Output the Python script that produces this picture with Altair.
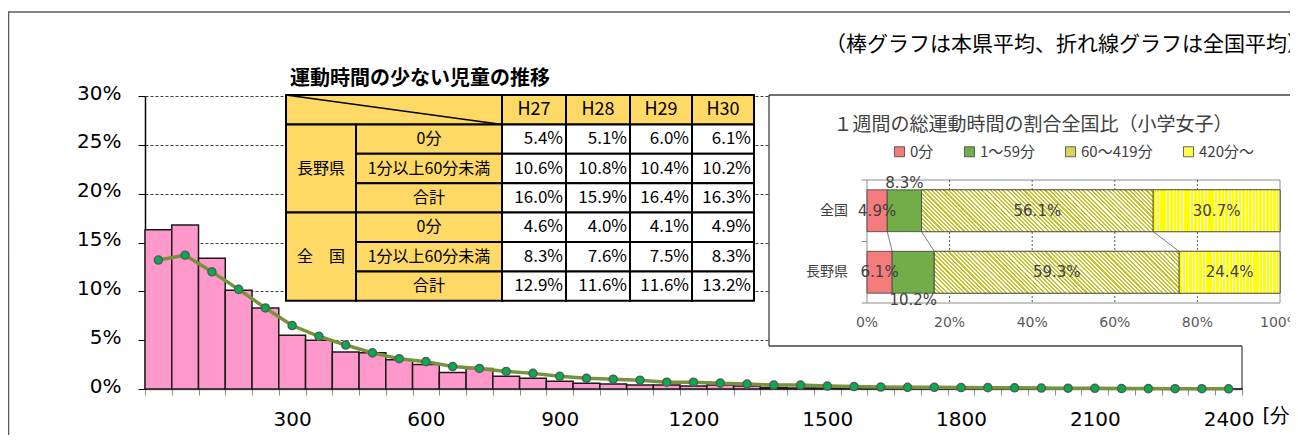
import altair as alt
import pandas as pd

# ---------------- data ----------------
minutes = [0, 60, 120, 180, 240, 300, 360, 420, 480, 540,
           600, 660, 720, 780, 840, 900, 960, 1020, 1080, 1140,
           1200, 1260, 1320, 1380, 1440, 1500, 1560, 1620, 1680, 1740,
           1800, 1860, 1920, 1980, 2040, 2100, 2160, 2220, 2280, 2340, 2400]
nagano_pct = [16.3, 16.8, 13.4, 10.1, 8.3, 5.5, 5.0, 3.8, 3.7, 3.0,
              2.5, 1.7, 2.1, 1.3, 1.1, 0.8, 0.6, 0.5, 0.4, 0.4,
              0.3, 0.4, 0.3, 0.15, 0.1, 0.1, 0.08, 0.05, 0.05, 0.05,
              0.04, 0.03, 0.03, 0.02, 0.02, 0.02, 0.01, 0.01, 0.01, 0.01, 0.01]
zenkoku_pct = [13.2, 13.7, 12.0, 10.2, 8.3, 6.5, 5.4, 4.5, 3.7, 3.1,
               2.8, 2.3, 2.1, 1.8, 1.6, 1.3, 1.1, 1.0, 0.9, 0.7,
               0.7, 0.6, 0.5, 0.4, 0.4, 0.3, 0.25, 0.2, 0.17, 0.17,
               0.15, 0.14, 0.12, 0.1, 0.08, 0.07, 0.05, 0.04, 0.03, 0.03, 0.02]
y_ticks = [0, 5, 10, 15, 20, 25, 30]
x_label_every = 300
x_unit = "[分]"
note_text = "（棒グラフは本県平均、折れ線グラフは全国平均）"

table_title = "運動時間の少ない児童の推移"
table_years = ["H27", "H28", "H29", "H30"]
table_groups = ["長野県", "全　国"]
table_rows = ["0分", "1分以上60分未満", "合計"]
nagano_0 = [5.4, 5.1, 6.0, 6.1]
nagano_1_59 = [10.6, 10.8, 10.4, 10.2]
nagano_total = [16.0, 15.9, 16.4, 16.3]
zenkoku_0 = [4.6, 4.0, 4.1, 4.9]
zenkoku_1_59 = [8.3, 7.6, 7.5, 8.3]
zenkoku_total = [12.9, 11.6, 11.6, 13.2]

inset_title = "１週間の総運動時間の割合全国比（小学女子）"
inset_regions = ["全国", "長野県"]
inset_cats = ["0分", "1～59分", "60～419分", "420分～"]
inset_zenkoku = [4.9, 8.3, 56.1, 30.7]
inset_nagano = [6.1, 10.2, 59.3, 24.4]
inset_ticks = [0, 20, 40, 60, 80, 100]

# ---------------- layout (page pixels -> view pixels) ----------------
OX, OY = 145, 96
PLOT_W, PLOT_H = 1097, 293
SVG_W, SVG_H = 1282, 427


def vx(x):
    return x - OX


def vy(y):
    return y - OY


JP = "Noto Sans CJK JP"
NARROW = "Liberation Sans Narrow, Arial Narrow, Noto Sans CJK JP"
VERD = "DejaVu Sans"

# ---------------- frame ----------------
one = pd.DataFrame({"k": [0]})
frame = alt.Chart(one).mark_rect(fillOpacity=0, stroke="#595959", strokeWidth=1.3).encode(
    x=alt.value(vx(8.6)), x2=alt.value(vx(1330)), y=alt.value(vy(12)), y2=alt.value(vy(470))
)

# ---------------- main chart ----------------
half = (minutes[1] - minutes[0]) / 2
bounds = [m - half for m in minutes] + [minutes[-1] + half]
band_px = PLOT_W / len(minutes)
main_df = pd.DataFrame({"min": minutes, "nagano": nagano_pct, "zenkoku": zenkoku_pct})

x_main = alt.Scale(domain=[bounds[0], bounds[-1]], nice=False, zero=False)
y_main = alt.Scale(domain=[y_ticks[0], y_ticks[-1]], nice=False)

x_axis = alt.Axis(
    values=bounds,
    labelExpr=f"datum.value > 0 && (datum.value + {half}) % {x_label_every} == 0 ? '' + (datum.value + {half}) : ''",
    labelOffset=band_px / 2, labelOverlap=False, labelFlush=False,
    labelFont=VERD, labelFontSize=20, labelColor="#000000", labelPadding=14,
    tickSize=6, tickColor="#8c8c8c", tickWidth=1,
    domainColor="#8c8c8c", domainWidth=1.5, grid=False,
    title=x_unit, titleX=vx(1262), titleY=26, titleAlign="left", titleBaseline="middle",
    titleFont=VERD, titleFontSize=20, titleFontWeight="normal", titleColor="#000000",
)
y_axis = alt.Axis(
    values=y_ticks, labelExpr="datum.value + '%'", title=None,
    grid=True, gridDash=[3, 2], gridColor="#404040", gridWidth=1,
    domainColor="#000000", domainWidth=1.5, tickColor="#000000", tickSize=7,
    labelFont=VERD, labelFontSize=20, labelColor="#000000", labelPadding=17, labelOffset=-3,
)

base = alt.Chart(main_df)
bars = base.transform_calculate(
    x0=f"datum.min - {half}", x1=f"datum.min + {half}"
).mark_rect(fill="#FF99CC", stroke="#1a1a1a", strokeWidth=1.5).encode(
    x=alt.X("x0:Q", scale=x_main, axis=x_axis), x2="x1:Q",
    y=alt.Y("nagano:Q", scale=y_main, axis=y_axis), y2=alt.Y2(datum=y_ticks[0]),
)
line = base.mark_line(color="#77933C", strokeWidth=3.5).encode(
    x=alt.X("min:Q", scale=x_main, axis=x_axis), y=alt.Y("zenkoku:Q", scale=y_main, axis=y_axis)
)
pts = base.mark_point(filled=True, fill="#00B050", stroke="#595959", strokeWidth=1.5,
                      size=65, opacity=1).encode(
    x=alt.X("min:Q", scale=x_main, axis=x_axis), y=alt.Y("zenkoku:Q", scale=y_main, axis=y_axis)
)
edge = alt.Chart(pd.DataFrame({"edge": [bounds[-1]]})).mark_rule(color="#404040", strokeWidth=1.2).encode(
    x=alt.X("edge:Q", scale=x_main, axis=x_axis),
    y=alt.Y(datum=y_ticks[0], scale=y_main, axis=y_axis), y2=alt.Y2(datum=y_ticks[-1]),
)
main = alt.layer(edge, bars, line, pts)

# ---------------- table ----------------
col_edges = [286, 356, 502, 566, 630, 692, 754]
row_top, row_h = 95, 29.4
n_rows = 1 + len(table_groups) * len(table_rows)
tx = alt.Scale(domain=list(range(len(col_edges))), range=[vx(c) for c in col_edges], nice=False, zero=False)
ty = alt.Scale(domain=[0, n_rows], range=[vy(row_top), vy(row_top + n_rows * row_h)], nice=False, zero=False)

cells = [dict(c0=0, c1=2, r0=0, r1=1, text="", kind="label", role="corner")]
for i, yr in enumerate(table_years):
    cells.append(dict(c0=2 + i, c1=3 + i, r0=0, r1=1, text=yr, kind="label", role="year"))
group_values = [[nagano_0, nagano_1_59, nagano_total], [zenkoku_0, zenkoku_1_59, zenkoku_total]]
for g, grp in enumerate(table_groups):
    top = 1 + g * len(table_rows)
    cells.append(dict(c0=0, c1=1, r0=top, r1=top + len(table_rows), text=grp, kind="label", role="group"))
    for j, rl in enumerate(table_rows):
        cells.append(dict(c0=1, c1=2, r0=top + j, r1=top + j + 1, text=rl, kind="label", role="row"))
        for i, v in enumerate(group_values[g][j]):
            cells.append(dict(c0=2 + i, c1=3 + i, r0=top + j, r1=top + j + 1,
                              text=f"{v:.1f}%", kind="value", role="value"))
cells_df = pd.DataFrame(cells)
tc = alt.Chart(cells_df).transform_calculate(cx="(datum.c0 + datum.c1) / 2", cy="(datum.r0 + datum.r1) / 2")

t_rect = tc.mark_rect(stroke="#000000", strokeWidth=2).encode(
    x=alt.X("c0:Q", scale=tx, axis=None), x2="c1:Q",
    y=alt.Y("r0:Q", scale=ty, axis=None), y2="r1:Q",
    color=alt.Color("kind:N", scale=alt.Scale(domain=["label", "value"], range=["#FFD966", "#FFFFFF"]), legend=None),
)
t_diag = tc.transform_filter("datum.role == 'corner'").mark_rule(color="#000000", strokeWidth=1.5).encode(
    x=alt.X("c0:Q", scale=tx, axis=None), x2="c1:Q",
    y=alt.Y("r0:Q", scale=ty, axis=None), y2="r1:Q",
)
t_year = tc.transform_filter("datum.role == 'year'").mark_text(
    font=NARROW, fontSize=18, color="#000000", baseline="middle", align="center"
).encode(x=alt.X("cx:Q", scale=tx, axis=None), y=alt.Y("cy:Q", scale=ty, axis=None), text="text:N")
t_lab = tc.transform_filter("datum.role == 'group' || datum.role == 'row'").mark_text(
    font=NARROW, fontSize=16, color="#000000", baseline="middle", align="center"
).encode(x=alt.X("cx:Q", scale=tx, axis=None), y=alt.Y("cy:Q", scale=ty, axis=None), text="text:N")
t_val = tc.transform_filter("datum.role == 'value'").mark_text(
    font=NARROW, fontSize=17, color="#000000", baseline="middle", align="right", dx=-3
).encode(x=alt.X("c1:Q", scale=tx, axis=None), y=alt.Y("cy:Q", scale=ty, axis=None), text="text:N")
t_title = alt.Chart(pd.DataFrame({"t": [table_title]})).mark_text(
    font=JP, fontSize=20, fontWeight="bold", color="#000000", align="left", baseline="middle", dx=4, dy=-16
).encode(x=alt.X(datum=0, scale=tx, axis=None), y=alt.Y(datum=0, scale=ty, axis=None), text="t:N")
table = alt.layer(t_rect, t_diag, t_year, t_lab, t_val, t_title)

# ---------------- inset chart ----------------
I_X0, I_X1, I_Y0, I_Y1 = 867, 1280, 180, 303
ix = alt.Scale(domain=[inset_ticks[0], inset_ticks[-1]], range=[vx(I_X0), vx(I_X1)], nice=False, zero=False)
iy = alt.Scale(domain=[0, len(inset_regions)], range=[vy(I_Y0), vy(I_Y1)], nice=False, zero=False)
BAR_HALF = 0.34
px_per_pct = (I_X1 - I_X0) / (inset_ticks[-1] - inset_ticks[0])
bar_h_px = 2 * BAR_HALF * (I_Y1 - I_Y0) / len(inset_regions)

rows = []
for r, (region, vals) in enumerate(zip(inset_regions, [inset_zenkoku, inset_nagano])):
    cum = 0.0
    for c, (cat, v) in enumerate(zip(inset_cats, vals)):
        rows.append(dict(region=region, ri=r, cat=cat, ci=c, value=v, start=cum, end=cum + v, pos=r + 0.5))
        cum += v
inset_df = pd.DataFrame(rows)
ic = alt.Chart(inset_df).transform_calculate(
    yb0=f"datum.pos - {BAR_HALF}", yb1=f"datum.pos + {BAR_HALF}",
    mid="(datum.start + datum.end) / 2",
    lab="format(datum.value, '.1f') + '%'",
    laby="datum.ci == 1 ? (datum.ri == 0 ? datum.pos - 0.45 : datum.pos + 0.45) : datum.pos",
)

box = alt.Chart(one).mark_rect(fill="#FFFFFF").encode(
    x=alt.value(vx(769)), x2=alt.value(vx(1340)), y=alt.value(vy(95)), y2=alt.value(vy(346)))
box_top = alt.Chart(one).mark_rule(color="#404040", strokeWidth=1.3).encode(
    x=alt.value(vx(769)), x2=alt.value(vx(1340)), y=alt.value(vy(95)))
box_left = alt.Chart(one).mark_rule(color="#404040", strokeWidth=1.3).encode(
    x=alt.value(vx(769)), y=alt.value(vy(95)), y2=alt.value(vy(346)))
box_bot = alt.Chart(one).mark_rule(color="#404040", strokeWidth=1.3).encode(
    x=alt.value(vx(769)), x2=alt.value(vx(1242)), y=alt.value(vy(346)))
i_title = alt.Chart(pd.DataFrame({"t": [inset_title]})).mark_text(
    font=JP, fontSize=19, color="#404040", align="center", baseline="middle"
).encode(x=alt.value(vx(1033)), y=alt.value(vy(125)), text="t:N")

i_frame = alt.Chart(one).mark_rect(fillOpacity=0, stroke="#8c8c8c", strokeWidth=1).encode(
    x=alt.X(datum=inset_ticks[0], scale=ix, axis=None), x2=alt.X2(datum=inset_ticks[-1]),
    y=alt.Y(datum=0, scale=iy, axis=None), y2=alt.Y2(datum=len(inset_regions)),
)
i_grid = alt.Chart(pd.DataFrame({"t": inset_ticks[1:-1]})).mark_rule(
    color="#595959", strokeDash=[2, 2], strokeWidth=1
).encode(x=alt.X("t:Q", scale=ix, axis=None),
         y=alt.Y(datum=0, scale=iy, axis=None), y2=alt.Y2(datum=len(inset_regions)))
i_tick = alt.Chart(pd.DataFrame({"b": list(range(len(inset_regions) + 1))})).mark_rule(
    color="#8c8c8c", strokeWidth=1
).encode(x=alt.X(datum=-1.3, scale=ix, axis=None), x2=alt.X2(datum=0),
         y=alt.Y("b:Q", scale=iy, axis=None))
i_xlab = alt.Chart(pd.DataFrame({"t": inset_ticks})).transform_calculate(
    lab="datum.t + '%'"
).mark_text(font=VERD, fontSize=14, color="#595959", baseline="middle", dy=20).encode(
    x=alt.X("t:Q", scale=ix, axis=None), y=alt.Y(datum=len(inset_regions), scale=iy, axis=None), text="lab:N")
i_ylab = alt.Chart(pd.DataFrame({"region": inset_regions, "pos": [r + 0.5 for r in range(len(inset_regions))]})).mark_text(
    font=JP, fontSize=14, color="#404040", align="right", baseline="middle", dx=-19
).encode(x=alt.X(datum=0, scale=ix, axis=None), y=alt.Y("pos:Q", scale=iy, axis=None), text="region:N")

solid = ["#F47C7C", "#72AD4A", "#D6D65C", "#FFFF4D"]
i_bars = ic.mark_rect(stroke="#404040", strokeWidth=0.8).encode(
    x=alt.X("start:Q", scale=ix, axis=None), x2="end:Q",
    y=alt.Y("yb0:Q", scale=iy, axis=None), y2="yb1:Q",
    color=alt.Color("cat:N", scale=alt.Scale(domain=inset_cats, range=solid), legend=alt.Legend(
        orient="none", legendX=vx(892), legendY=vy(152) - 8, direction="horizontal", columns=4,
        symbolType="square", symbolSize=100, symbolStrokeColor="#404040", symbolStrokeWidth=0.8,
        symbolOpacity=1, labelFont=JP, labelFontSize=15, labelColor="#404040", labelOffset=3,
        columnPadding=28, title=None, padding=0)),
)


def gs(o, c):
    return alt.GradientStop(offset=round(min(1.0, o), 5), color=c)


def vstripes(w, color, gap="#FFFFFF", period=3.4, duty=0.72):
    n = max(1, round(w / period))
    stops = []
    for i in range(n):
        stops += [gs(i / n, color), gs((i + duty) / n, color), gs((i + duty) / n, gap), gs((i + 1) / n, gap)]
    return alt.LinearGradient(gradient="linear", stops=stops, x1=0, y1=0, x2=1, y2=0)


def dstripes(w, h, color, gap="#FFFFFF", period=4.2, duty=0.5):
    k = h / w
    s = (1 + k) / (1 + k * k)
    n = max(1, round((w + h) / period))
    stops = []
    for i in range(n):
        stops += [gs(i / n, color), gs((i + duty) / n, color), gs((i + duty) / n, gap), gs((i + 1) / n, gap)]
    return alt.LinearGradient(gradient="linear", stops=stops, x1=0, y1=1, x2=round(s, 5), y2=round(1 - s * k, 5))


stripe_layers = []
for r, vals in enumerate([inset_zenkoku, inset_nagano]):
    for c in (2, 3):
        w = vals[c] * px_per_pct
        grad = dstripes(w, bar_h_px, "#C4C428") if c == 2 else vstripes(w, "#FFFF00")
        stripe_layers.append(
            ic.transform_filter(f"datum.ri == {r} && datum.ci == {c}").mark_rect(
                fill=grad, stroke="#404040", strokeWidth=0.8
            ).encode(x=alt.X("start:Q", scale=ix, axis=None), x2="end:Q",
                     y=alt.Y("yb0:Q", scale=iy, axis=None), y2="yb1:Q")
        )

zc, nc, conn = 0.0, 0.0, []
for k in range(len(inset_cats) - 1):
    zc += inset_zenkoku[k]
    nc += inset_nagano[k]
    conn.append(dict(xa=zc, xb=nc))
i_conn = alt.Chart(pd.DataFrame(conn)).transform_calculate(
    ya=f"0.5 + {BAR_HALF}", yb=f"1.5 - {BAR_HALF}"
).mark_rule(color="#7f7f7f", strokeWidth=1).encode(
    x=alt.X("xa:Q", scale=ix, axis=None), x2="xb:Q",
    y=alt.Y("ya:Q", scale=iy, axis=None), y2="yb:Q",
)
i_lab = ic.mark_text(font=VERD, fontSize=15, color="#404040", baseline="middle", align="center").encode(
    x=alt.X("mid:Q", scale=ix, axis=None), y=alt.Y("laby:Q", scale=iy, axis=None), text="lab:N")

inset = alt.layer(box, box_top, box_left, box_bot, i_title, i_frame, i_grid, i_tick, i_conn,
                  i_bars, *stripe_layers, i_xlab, i_ylab, i_lab)

# ---------------- note ----------------
note = alt.Chart(pd.DataFrame({"t": [note_text]})).mark_text(
    font=JP, fontSize=21, color="#000000", align="left", baseline="middle"
).encode(x=alt.value(vx(825)), y=alt.value(vy(45)), text="t:N")

chart = alt.layer(frame, main, table, inset, note).resolve_scale(
    x="independent", y="independent", color="independent"
).properties(
    width=PLOT_W, height=PLOT_H,
    autosize=alt.AutoSizeParams(type="none"),
    padding={"left": OX - 8, "top": OY - 8, "right": SVG_W - (OX - 8) - PLOT_W,
             "bottom": SVG_H - (OY - 8) - PLOT_H},
).configure_view(strokeWidth=0)

chart.save("out.html", embed_options={"renderer": "svg", "actions": False})
